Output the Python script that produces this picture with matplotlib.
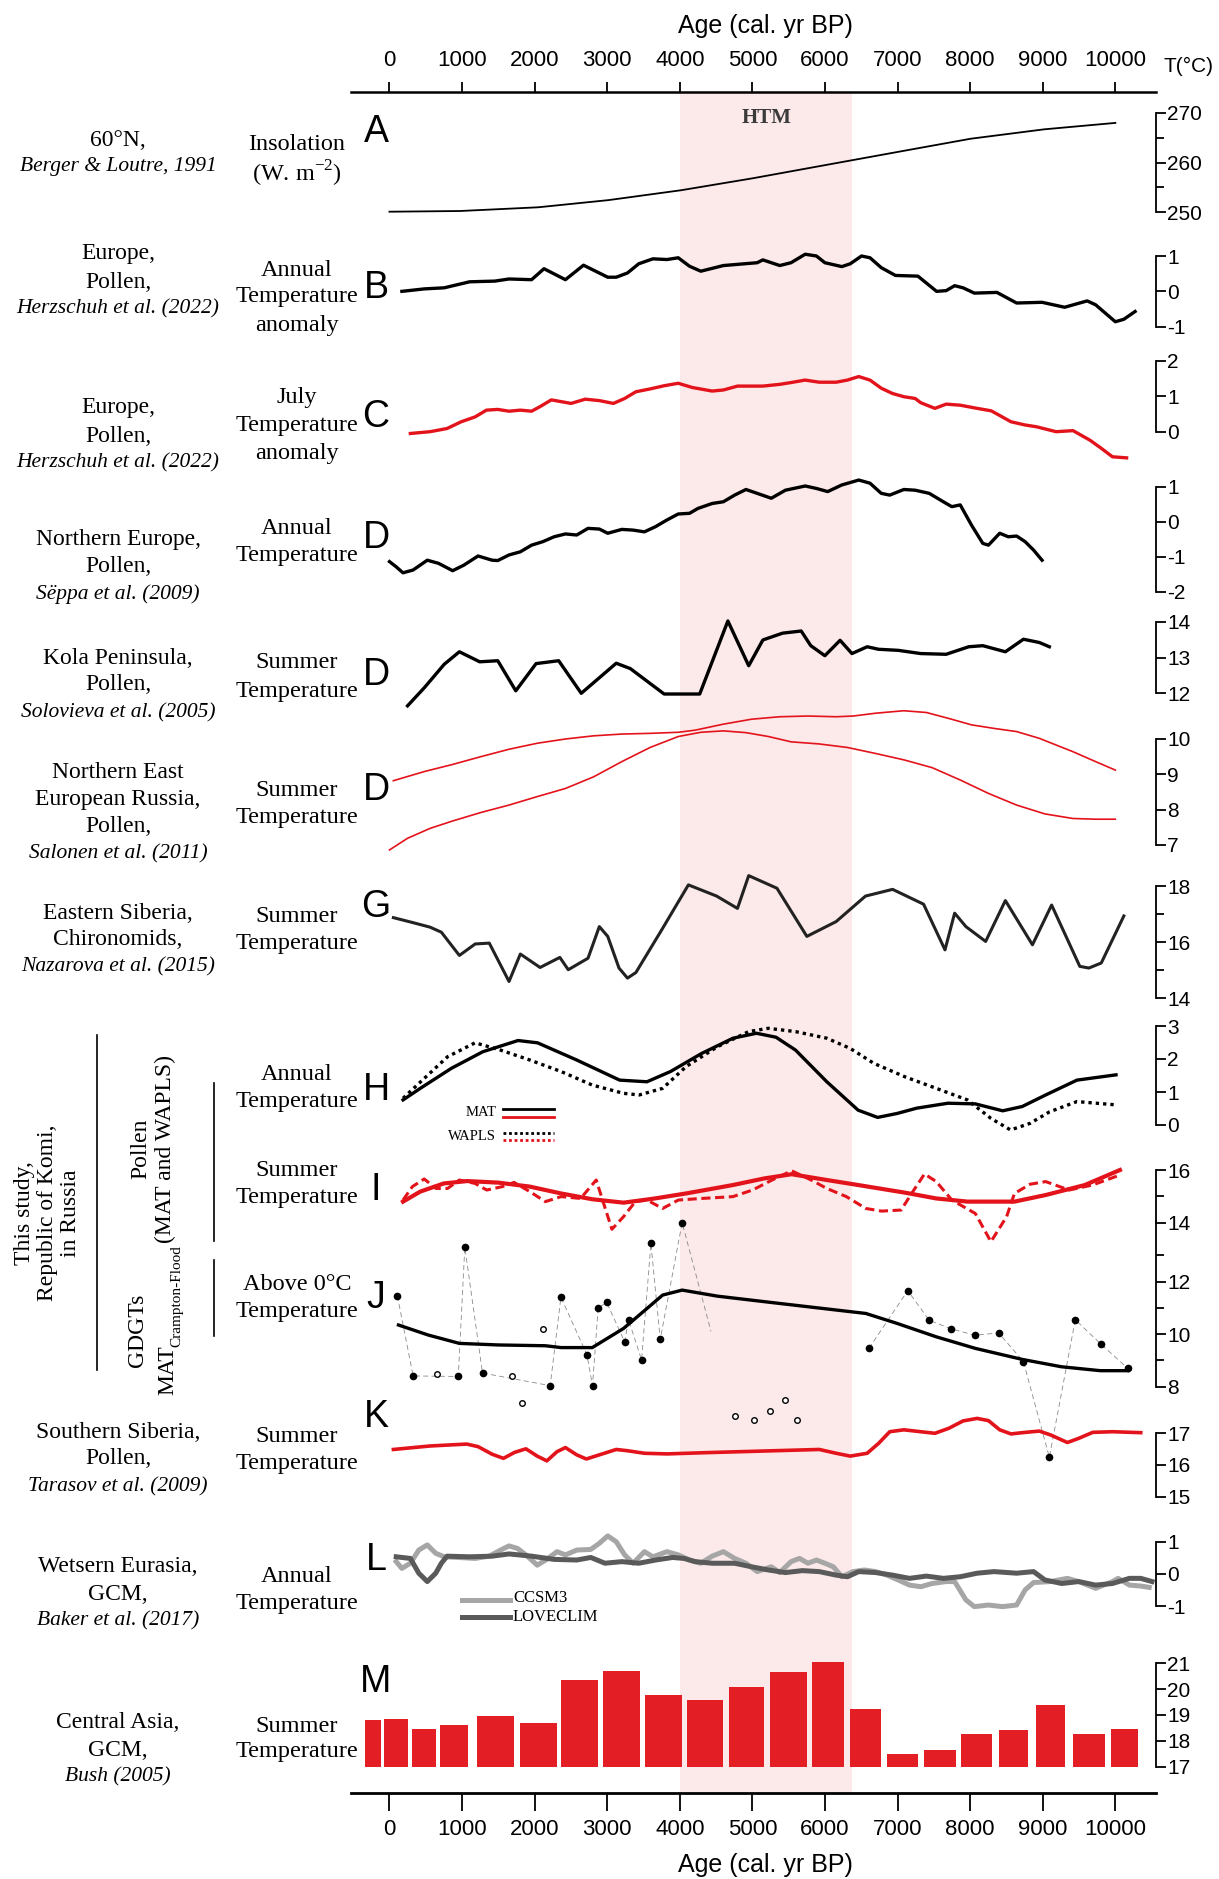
import matplotlib
matplotlib.use("Agg")
import matplotlib.pyplot as plt
from matplotlib.lines import Line2D

# ---------------- values ----------------
htm_start, htm_end = 4000, 6370
age_ticks = [0, 1000, 2000, 3000, 4000, 5000, 6000, 7000, 8000, 9000, 10000]

# A - insolation 60N
insol_age = [0, 970, 2047, 3017, 4019, 5000, 6013, 7026, 8006, 9019, 10000]
insol_val = [250.06, 250.2, 250.95, 252.4, 254.4, 256.8, 259.5, 262.2, 264.8, 266.7, 268.0]

# B - Europe annual anomaly
eu_ann_age = [171, 482, 754, 1103, 1453, 1647, 1958, 2129, 2424, 2673, 3007, 3124, 3279, 3434,
              3629, 3823, 3978, 4134, 4289, 4600, 5066, 5144, 5377, 5532, 5727, 5882, 5998, 6232,
              6348, 6503, 6620, 6775, 6970, 7280, 7537, 7669, 7786, 7902, 8057, 8368, 8640, 8990,
              9301, 9612, 9728, 10000, 10117, 10272]
eu_ann_val = [0, 0.07, 0.1, 0.27, 0.29, 0.35, 0.33, 0.64, 0.33, 0.74, 0.4, 0.4, 0.52, 0.78,
              0.92, 0.9, 0.95, 0.71, 0.57, 0.73, 0.81, 0.89, 0.73, 0.81, 1.05, 1.0, 0.81, 0.7,
              0.78, 1.0, 0.95, 0.67, 0.45, 0.43, 0, 0.02, 0.16, 0.1, -0.05, -0.03, -0.33, -0.31,
              -0.45, -0.27, -0.38, -0.86, -0.79, -0.57]

# C - Europe July anomaly
eu_jul_age = [288, 559, 793, 987, 1181, 1336, 1492, 1647, 1803, 1958, 2075, 2230, 2502, 2696,
              2891, 3085, 3240, 3395, 3590, 3784, 3978, 4173, 4445, 4600, 4794, 5144, 5377, 5532,
              5727, 5921, 6154, 6309, 6465, 6620, 6775, 6931, 7086, 7242, 7319, 7514, 7669, 7863,
              8096, 8291, 8563, 8757, 8912, 9184, 9417, 9650, 9806, 9961, 10155]
eu_jul_val = [-0.05, 0, 0.09, 0.28, 0.42, 0.61, 0.63, 0.58, 0.61, 0.58, 0.71, 0.9, 0.8, 0.92,
              0.88, 0.8, 0.94, 1.13, 1.21, 1.3, 1.37, 1.25, 1.15, 1.18, 1.29, 1.29, 1.34, 1.39,
              1.46, 1.4, 1.4, 1.46, 1.56, 1.46, 1.23, 1.08, 0.99, 0.94, 0.82, 0.66, 0.78, 0.75,
              0.66, 0.59, 0.28, 0.19, 0.14, 0, 0.03, -0.24, -0.47, -0.71, -0.74]

# D - Northern Europe annual
neu_age = [0, 93, 186, 326, 521, 676, 870, 1026, 1220, 1414, 1492, 1647, 1803, 1958, 2113, 2269,
           2424, 2580, 2735, 2891, 3007, 3201, 3357, 3512, 3667, 3823, 3978, 4134, 4250, 4445,
           4600, 4755, 4911, 5066, 5260, 5455, 5727, 5882, 6037, 6232, 6465, 6620, 6775, 6892,
           7086, 7242, 7436, 7630, 7747, 7863, 8019, 8174, 8252, 8407, 8524, 8640, 8757, 8873, 8990]
neu_val = [-1.14, -1.29, -1.46, -1.38, -1.1, -1.19, -1.4, -1.24, -0.98, -1.1, -1.11, -0.95, -0.86,
           -0.67, -0.57, -0.43, -0.35, -0.38, -0.19, -0.21, -0.33, -0.22, -0.24, -0.29, -0.14, 0.05,
           0.22, 0.24, 0.38, 0.52, 0.57, 0.76, 0.92, 0.81, 0.67, 0.9, 1.02, 0.95, 0.86, 1.05, 1.19,
           1.1, 0.81, 0.76, 0.92, 0.9, 0.81, 0.57, 0.43, 0.48, -0.1, -0.62, -0.67, -0.33, -0.43,
           -0.41, -0.57, -0.81, -1.1]

# D - Kola Peninsula summer
kola_age = [249, 482, 754, 963, 1243, 1492, 1740, 2020, 2331, 2642, 3124, 3318, 3784, 4274, 4662,
            4949, 5144, 5416, 5672, 5804, 5998, 6208, 6371, 6581, 6737, 7008, 7319, 7669, 7980,
            8174, 8485, 8734, 8951, 9091]
kola_val = [11.65, 12.16, 12.81, 13.16, 12.88, 12.91, 12.07, 12.83, 12.91, 12.0, 12.84, 12.69,
            11.98, 11.98, 14.02, 12.77, 13.49, 13.68, 13.74, 13.33, 13.05, 13.48, 13.11, 13.3,
            13.23, 13.2, 13.11, 13.09, 13.3, 13.33, 13.16, 13.51, 13.42, 13.3]

# D - Northern East European Russia summer (two records)
neer_a_age = [54, 482, 870, 1259, 1647, 2036, 2424, 2813, 3201, 3590, 3978, 4211, 4600, 4988, 5377,
              5765, 6154, 6387, 6698, 7086, 7397, 7708, 8019, 8329, 8640, 8951, 9417, 9728, 10000]
neer_a_val = [8.82, 9.08, 9.28, 9.5, 9.71, 9.88, 10.0, 10.09, 10.14, 10.16, 10.19, 10.25, 10.42,
              10.56, 10.63, 10.65, 10.63, 10.65, 10.73, 10.8, 10.75, 10.58, 10.4, 10.3, 10.21,
              10.02, 9.64, 9.36, 9.12]
neer_b_age = [0, 249, 559, 870, 1259, 1647, 2036, 2424, 2813, 3201, 3590, 3978, 4289, 4600, 4911,
              5221, 5532, 5921, 6309, 6698, 7086, 7475, 7863, 8252, 8640, 9029, 9417, 9728, 10000]
neer_b_val = [6.86, 7.19, 7.47, 7.68, 7.92, 8.13, 8.37, 8.6, 8.93, 9.36, 9.76, 10.07, 10.19, 10.23,
              10.18, 10.07, 9.92, 9.86, 9.76, 9.59, 9.41, 9.19, 8.84, 8.46, 8.13, 7.88, 7.75, 7.73,
              7.73]

# G - Eastern Siberia chironomids
esib_age = [54, 326, 559, 715, 963, 1181, 1375, 1647, 1803, 2075, 2347, 2463, 2735, 2891, 3007,
            3162, 3279, 3395, 3745, 4118, 4507, 4794, 4949, 5338, 5750, 6154, 6558, 6931, 7358,
            7653, 7786, 7941, 8213, 8485, 8858, 9122, 9510, 9635, 9806, 10117]
esib_val = [16.87, 16.69, 16.53, 16.35, 15.52, 15.93, 15.96, 14.59, 15.57, 15.09, 15.45, 15.01,
            15.42, 16.55, 16.2, 15.07, 14.71, 14.91, 16.41, 18.04, 17.64, 17.2, 18.37, 17.92,
            16.2, 16.73, 17.64, 17.88, 17.35, 15.72, 17.03, 16.55, 16.02, 17.48, 15.9, 17.32,
            15.13, 15.07, 15.25, 16.93]

# H - Komi annual (pollen)
h_mat_age = [187, 424, 855, 1286, 1771, 2040, 2579, 3171, 3547, 3871, 4302, 4732, 5055, 5325,
             5594, 6025, 6456, 6725, 6994, 7263, 7694, 8071, 8448, 8717, 9040, 9471, 10009]
h_mat_val = [0.76, 1.11, 1.72, 2.22, 2.56, 2.49, 1.97, 1.36, 1.31, 1.62, 2.17, 2.63, 2.78, 2.66,
             2.27, 1.31, 0.45, 0.23, 0.35, 0.51, 0.66, 0.64, 0.43, 0.56, 0.91, 1.36, 1.52]
h_wapls_age = [187, 478, 801, 1179, 1502, 1933, 2364, 2794, 3225, 3440, 3763, 4086, 4517, 4948,
               5217, 5594, 6025, 6348, 6671, 7102, 7533, 7963, 8286, 8556, 8825, 9094, 9471, 10009]
h_wapls_val = [0.81, 1.41, 2.07, 2.49, 2.29, 1.97, 1.62, 1.21, 0.96, 0.91, 1.11, 1.77, 2.37, 2.83,
               2.93, 2.83, 2.63, 2.32, 1.87, 1.46, 1.11, 0.76, 0.2, -0.15, 0.05, 0.4, 0.71, 0.61]

# I - Komi summer (pollen)
i_mat_age = [187, 424, 748, 1071, 1502, 1933, 2364, 2794, 3225, 3656, 4086, 4732, 5163, 5540,
             6025, 6456, 7102, 7533, 7963, 8610, 9040, 9579, 10063]
i_mat_val = [14.8, 15.18, 15.49, 15.58, 15.52, 15.37, 15.11, 14.89, 14.76, 14.92, 15.11, 15.43,
             15.68, 15.84, 15.62, 15.43, 15.14, 14.92, 14.8, 14.8, 15.05, 15.43, 16.0]
i_wapls_age = [187, 316, 478, 640, 801, 963, 1179, 1340, 1556, 1717, 1933, 2148, 2364, 2633, 2848,
               3064, 3225, 3387, 3548, 3763, 3979, 4302, 4732, 5002, 5271, 5540, 5810, 6025, 6294,
               6563, 6779, 7048, 7210, 7371, 7533, 7748, 8071, 8286, 8502, 8610, 8825, 9040, 9363,
               9686, 10063]
i_wapls_val = [14.86, 15.37, 15.66, 15.3, 15.3, 15.62, 15.49, 15.24, 15.37, 15.53, 15.18, 14.8,
               14.99, 14.92, 15.62, 13.75, 14.23, 14.8, 14.86, 14.54, 14.86, 14.92, 14.99, 15.24,
               15.62, 15.97, 15.62, 15.3, 14.99, 14.54, 14.44, 14.48, 15.18, 15.85, 15.56, 14.86,
               14.35, 13.28, 14.23, 15.11, 15.46, 15.56, 15.24, 15.43, 15.81]

# J - Komi above-0C temperature (GDGTs)
j_fit_age = [124, 532, 963, 1502, 2148, 2364, 2794, 3225, 3548, 3763, 4032, 4517, 5379, 6563,
             6994, 7533, 8071, 8717, 9256, 9794, 10171]
j_fit_val = [10.35, 9.97, 9.65, 9.59, 9.56, 9.49, 9.49, 10.22, 10.98, 11.49, 11.68, 11.45, 11.17,
             10.79, 10.41, 9.9, 9.46, 9.04, 8.76, 8.61, 8.61]
j_left_age = [109, 326, 948, 1038, 1282, 2214, 2362, 2720, 2797, 2875, 2991, 3240, 3294, 3473,
              3602, 3730, 4032, 4429]
j_left_val = [11.46, 8.41, 8.39, 13.31, 8.52, 8.04, 11.41, 9.22, 8.04, 10.99, 11.22, 9.71, 10.55,
              9.02, 13.46, 9.8, 14.25, 10.11]
j_right_age = [6605, 7140, 7436, 7731, 8065, 8392, 8733, 9091, 9448, 9806, 10171]
j_right_val = [9.46, 11.66, 10.53, 10.21, 9.96, 10.05, 8.96, 5.31, 10.55, 9.61, 8.7]
j_open_age = [652, 1686, 1826, 2113, 4755, 5027, 5237, 5447, 5610]
j_open_val = [8.48, 8.41, 7.37, 10.2, 6.87, 6.74, 7.06, 7.5, 6.72]

# K - Southern Siberia summer
ssib_age = [54, 559, 1064, 1220, 1414, 1570, 1725, 1880, 2036, 2168, 2308, 2424, 2580, 2712, 2891,
            3124, 3279, 3512, 3823, 4367, 5144, 5921, 6154, 6348, 6581, 6737, 6892, 7086, 7319,
            7514, 7708, 7902, 8096, 8252, 8407, 8563, 8718, 8951, 9106, 9339, 9495, 9689, 9961,
            10350]
ssib_val = [16.49, 16.6, 16.66, 16.58, 16.34, 16.21, 16.4, 16.51, 16.28, 16.13, 16.42, 16.55,
            16.32, 16.19, 16.32, 16.49, 16.45, 16.37, 16.35, 16.39, 16.44, 16.49, 16.37, 16.28,
            16.37, 16.68, 17.05, 17.11, 17.05, 17.0, 17.16, 17.39, 17.47, 17.4, 17.11, 16.98,
            17.02, 17.07, 16.95, 16.71, 16.84, 17.03, 17.05, 17.02]

# L - Western Eurasia GCM annual
ccsm_age = [93, 171, 288, 404, 521, 637, 754, 948, 1181, 1375, 1531, 1647, 1764, 1880, 2036, 2152,
            2308, 2424, 2580, 2774, 2891, 3007, 3124, 3240, 3357, 3512, 3629, 3823, 3978, 4134,
            4289, 4445, 4600, 4755, 4911, 5066, 5260, 5377, 5532, 5649, 5765, 5882, 5998, 6115,
            6232, 6387, 6542, 6698, 6853, 7008, 7164, 7319, 7475, 7669, 7786, 7941, 8057, 8252,
            8446, 8640, 8757, 8873, 9106, 9339, 9495, 9728, 9961, 10039, 10194, 10350, 10466]
ccsm_val = [0.38, 0.17, 0.33, 0.74, 0.9, 0.64, 0.53, 0.51, 0.48, 0.55, 0.74, 0.87, 0.79, 0.59,
            0.27, 0.43, 0.69, 0.59, 0.74, 0.76, 0.95, 1.18, 1.0, 0.59, 0.33, 0.69, 0.53, 0.69,
            0.59, 0.43, 0.33, 0.55, 0.69, 0.48, 0.33, 0.07, 0.22, 0.04, 0.38, 0.48, 0.33, 0.43,
            0.33, 0.22, -0.09, 0.07, 0.12, 0.07, -0.04, -0.19, -0.35, -0.4, -0.3, -0.24, -0.24,
            -0.81, -1.02, -0.97, -1.02, -0.97, -0.5, -0.27, -0.24, -0.14, -0.24, -0.45, -0.24,
            -0.14, -0.35, -0.38, -0.42]
lovec_age = [93, 288, 404, 521, 637, 715, 793, 1103, 1414, 1647, 1958, 2269, 2580, 2774, 2968,
             3201, 3434, 3667, 3900, 4056, 4211, 4445, 4755, 4988, 5221, 5455, 5688, 5921, 6154,
             6309, 6465, 6698, 6931, 7164, 7397, 7630, 7863, 8096, 8329, 8640, 8873, 9029, 9262,
             9495, 9728, 9961, 10194, 10350, 10505]
lovec_val = [0.53, 0.48, 0.02, -0.24, 0.02, 0.33, 0.55, 0.53, 0.55, 0.62, 0.55, 0.45, 0.43, 0.51,
             0.33, 0.38, 0.33, 0.43, 0.51, 0.48, 0.38, 0.33, 0.33, 0.22, 0.12, 0.04, 0.1, 0.07,
             -0.04, -0.09, 0.07, 0.04, -0.04, -0.14, -0.07, -0.14, -0.09, 0.02, 0.07, 0.02, 0.07,
             -0.19, -0.3, -0.24, -0.35, -0.3, -0.14, -0.14, -0.24]

# M - Central Asia GCM summer (age bins)
casia_left = [-334, -78, 311, 692, 1204, 1803, 2362, 2945, 3527, 4095, 4677, 5237, 5827, 6348,
              6853, 7366, 7879, 8391, 8912, 9417, 9945]
casia_right = [-117, 249, 637, 1080, 1709, 2308, 2875, 3450, 4025, 4592, 5159, 5758, 6263, 6775,
               7288, 7801, 8306, 8803, 9308, 9860, 10311]
casia_val = [18.81, 18.83, 18.47, 18.6, 18.97, 18.7, 20.35, 20.69, 19.76, 19.58, 20.1, 20.66,
             21.06, 19.25, 17.5, 17.63, 18.28, 18.43, 19.37, 18.25, 18.47]
casia_base = 17

# ---------------- figure ----------------
W, H = 1219, 1879
SERIF = "Liberation Serif"
SANS = "Liberation Sans"
RED = "#e3131b"
PINK = "#fce9e9"

plt.rcParams["font.family"] = SANS
plt.rcParams["axes.unicode_minus"] = False

fig = plt.figure(figsize=(W / 100, H / 100), dpi=100)

X0, X1 = 351, 1156
AGE_MIN, AGE_MAX = -530, 10560


def fx(px):
    return px / W


def fy(py):
    return 1 - py / H


# background: HTM band and the two age axes
bg = fig.add_axes([fx(X0), fy(1793), fx(X1) - fx(X0), (1793 - 92) / H])
bg.set_xlim(AGE_MIN, AGE_MAX)
bg.set_ylim(0, 1)
bg.axvspan(htm_start, htm_end, color=PINK, lw=0)
bg.patch.set_visible(False)
for s in ("left", "right", "top"):
    bg.spines[s].set_visible(False)
bg.spines["bottom"].set_linewidth(2)
bg.set_yticks([])
bg.set_xticks(age_ticks)
bg.tick_params(axis="x", direction="out", length=13, width=1.3, pad=6, labelsize=16)

top = bg.twiny()
top.set_xlim(AGE_MIN, AGE_MAX)
for s in ("left", "right", "bottom"):
    top.spines[s].set_visible(False)
top.spines["top"].set_linewidth(1.8)
top.set_xticks(age_ticks)
top.tick_params(axis="x", direction="out", length=7, width=1.3, pad=8, labelsize=16)

fig.text(fx(765), fy(26), "Age (cal. yr BP)", fontsize=18, ha="center", va="center")
fig.text(fx(765), fy(1865), "Age (cal. yr BP)", fontsize=18, ha="center", va="center")
fig.text(fx(1188), fy(66), "T(°C)", fontsize=15, ha="center", va="center")
fig.text(fx(767), fy(118), "HTM", fontsize=15, ha="center", va="center",
         family=SERIF, weight="bold", color="#3a3a3a")


def panel(v_top, y_top, v_bot, y_bot, major, minor=(), bounds=None, pad_px=40):
    per = (v_top - v_bot) / (y_bot - y_top)
    top_px, bot_px = y_top - pad_px, y_bot + pad_px
    ax = fig.add_axes([fx(X0), fy(bot_px), fx(X1) - fx(X0), (bot_px - top_px) / H])
    ax.set_xlim(AGE_MIN, AGE_MAX)
    ax.set_ylim(v_bot - pad_px * per, v_top + pad_px * per)
    ax.patch.set_visible(False)
    for s in ("left", "top", "bottom"):
        ax.spines[s].set_visible(False)
    ax.spines["right"].set_bounds(*(bounds or (v_bot, v_top)))
    ax.spines["right"].set_linewidth(1.3)
    ax.set_xticks([])
    ax.yaxis.tick_right()
    ax.set_yticks(major)
    ax.set_yticks(list(minor), minor=True)
    ax.tick_params(axis="y", which="major", direction="out", length=7, width=1.3,
                   pad=1, labelsize=15)
    ax.tick_params(axis="y", which="minor", direction="out", length=6, width=1.3)
    return ax


axA = panel(270, 113, 250, 212, [250, 260, 270], [255, 265])
axA.plot(insol_age, insol_val, color="black", lw=1.3, clip_on=False)

axB = panel(1, 256, -1, 326.7, [-1, 0, 1])
axB.plot(eu_ann_age, eu_ann_val, color="black", lw=2.4, clip_on=False)

axC = panel(2, 361, 0, 431.7, [0, 1, 2])
axC.plot(eu_jul_age, eu_jul_val, color=RED, lw=2.4, clip_on=False)

axD1 = panel(1, 486.7, -2, 591.7, [-2, -1, 0, 1])
axD1.plot(neu_age, neu_val, color="black", lw=2.4, clip_on=False)

axD2 = panel(14, 621.7, 12, 693.3, [12, 13, 14])
axD2.plot(kola_age, kola_val, color="black", lw=2.4, clip_on=False)

axD3 = panel(10, 739, 7, 845, [7, 8, 9, 10])
axD3.plot(neer_a_age, neer_a_val, color=RED, lw=1.2, clip_on=False)
axD3.plot(neer_b_age, neer_b_val, color=RED, lw=1.2, clip_on=False)

axG = panel(18, 886, 14, 998, [14, 16, 18], [15, 17])
axG.plot(esib_age, esib_val, color="#222222", lw=2.2, clip_on=False)

axH = panel(3, 1026, 0, 1125, [0, 1, 2, 3])
axH.plot(h_mat_age, h_mat_val, color="black", lw=2.4, clip_on=False)
axH.plot(h_wapls_age, h_wapls_val, color="black", lw=2.4, ls=(0, (1, 1.2)), clip_on=False)

axI = panel(16, 1170, 14, 1222.7, [14, 16], [15])
axI.plot(i_mat_age, i_mat_val, color=RED, lw=3, clip_on=False)
axI.plot(i_wapls_age, i_wapls_val, color=RED, lw=2.2, ls=(0, (3, 1.5)), clip_on=False)

axJ = panel(12, 1281.7, 8, 1386.7, [8, 10, 12], [9, 11, 13], bounds=(8, 14.3))
axJ.plot(j_left_age, j_left_val, color="#8a8a8a", lw=0.6, ls=(0, (6, 4)), clip_on=False)
axJ.plot(j_right_age, j_right_val, color="#8a8a8a", lw=0.6, ls=(0, (6, 4)), clip_on=False)
axJ.plot(j_left_age[:-1], j_left_val[:-1], "o", color="black", ms=4.5, clip_on=False)
axJ.plot(j_right_age, j_right_val, "o", color="black", ms=4.5, clip_on=False)
axJ.plot(j_open_age, j_open_val, "o", mfc="white", mec="black", mew=1, ms=4, clip_on=False)
axJ.plot(j_fit_age, j_fit_val, color="black", lw=2.4, clip_on=False)

axK = panel(17, 1433.3, 15, 1496.7, [15, 16, 17])
axK.plot(ssib_age, ssib_val, color=RED, lw=2.6, clip_on=False)

axL = panel(1, 1541.7, -1, 1606, [-1, 0, 1])
axL.plot(ccsm_age, ccsm_val, color="#a6a6a6", lw=3.6, clip_on=False)
axL.plot(lovec_age, lovec_val, color="#5a5a5a", lw=3.6, clip_on=False)

axM = panel(21, 1663.3, 17, 1766.7, [17, 18, 19, 20, 21])
axM.bar(casia_left, [v - casia_base for v in casia_val],
        width=[r - l for l, r in zip(casia_left, casia_right)],
        bottom=casia_base, align="edge", color="#e31e24", edgecolor="none")


# small legends
def hline(x0, x1, y, **kw):
    fig.add_artist(Line2D([fx(x0), fx(x1)], [fy(y), fy(y)], **kw))


fig.text(fx(496), fy(1112), "MAT", family=SERIF, fontsize=10.5, ha="right", va="center")
fig.text(fx(496), fy(1136), "WAPLS", family=SERIF, fontsize=10.5, ha="right", va="center")
hline(503, 554, 1109, color="black", lw=2)
hline(503, 554, 1117, color=RED, lw=2)
hline(503, 554, 1133, color="black", lw=2, ls=(0, (1, 1)))
hline(503, 554, 1140, color=RED, lw=2, ls=(0, (1, 1)))

hline(462, 510, 1600, color="#a6a6a6", lw=3.6)
hline(462, 510, 1617, color="#5a5a5a", lw=3.6)
fig.text(fx(513), fy(1598), "CCSM3", family=SERIF, fontsize=12, ha="left", va="center")
fig.text(fx(513), fy(1617), "LOVECLIM", family=SERIF, fontsize=12, ha="left", va="center")

# panel letters
letters = [("A", 132), ("B", 288), ("C", 417), ("D", 538), ("D", 675), ("D", 790), ("G", 907),
           ("H", 1090), ("I", 1190), ("J", 1298), ("K", 1417), ("L", 1560), ("M", 1682)]
for letter, y in letters:
    fig.text(fx(376), fy(y), letter, fontsize=27, ha="center", va="center")

# left-hand descriptions: (text, y, italic)
sources = [
    ("60°N,", 141, False), ("Berger & Loutre, 1991", 166, True),
    ("Europe,", 254, False), ("Pollen,", 282, False), ("Herzschuh et al. (2022)", 309, True),
    ("Europe,", 408, False), ("Pollen,", 436, False), ("Herzschuh et al. (2022)", 463, True),
    ("Northern Europe,", 539, False), ("Pollen,", 567, False), ("Sëppa et al. (2009)", 594, True),
    ("Kola Peninsula,", 659, False), ("Pollen,", 685, False),
    ("Solovieva et al. (2005)", 713, True),
    ("Northern East", 772, False), ("European Russia,", 799, False), ("Pollen,", 827, False),
    ("Salonen et al. (2011)", 854, True),
    ("Eastern Siberia,", 913, False), ("Chironomids,", 940, False),
    ("Nazarova et al. (2015)", 967, True),
    ("Southern Siberia,", 1432, False), ("Pollen,", 1459, False),
    ("Tarasov et al. (2009)", 1487, True),
    ("Wetsern Eurasia,", 1566, False), ("GCM,", 1594, False), ("Baker et al. (2017)", 1621, True),
    ("Central Asia,", 1723, False), ("GCM,", 1751, False), ("Bush (2005)", 1777, True),
]
for txt, y, it in sources:
    fig.text(fx(118), fy(y), txt, family=SERIF, fontsize=15.5 if it else 17,
             style="italic" if it else "normal", ha="center", va="center")

variables = [
    ("Insolation", 144), (r"(W. m$^{\mathregular{-2}}$)", 174),
    ("Annual", 270), ("Temperature", 297), ("anomaly", 325),
    ("July", 398), ("Temperature", 426), ("anomaly", 453),
    ("Annual", 528), ("Temperature", 555),
    ("Summer", 662), ("Temperature", 691),
    ("Summer", 791), ("Temperature", 817),
    ("Summer", 917), ("Temperature", 944),
    ("Annual", 1075), ("Temperature", 1102),
    ("Summer", 1170), ("Temperature", 1197),
    ("Above 0°C", 1285), ("Temperature", 1312),
    ("Summer", 1436), ("Temperature", 1464),
    ("Annual", 1577), ("Temperature", 1604),
    ("Summer", 1726), ("Temperature", 1752),
]
for txt, y in variables:
    fig.text(fx(297), fy(y), txt, family=SERIF, fontsize=17.5, ha="center", va="center")

# "this study" group
fig.text(fx(47.5), fy(1213), "This study,\nRepublic of Komi,\nin Russia", family=SERIF,
         fontsize=17, rotation=90, ha="center", va="center", multialignment="center",
         linespacing=1.1)
fig.add_artist(Line2D([fx(97), fx(97)], [fy(1035), fy(1370)], color="black", lw=1.2))
fig.text(fx(153), fy(1149), "Pollen\n(MAT and WAPLS)", family=SERIF, fontsize=17, rotation=90,
         ha="center", va="center", multialignment="center", linespacing=1.2)
fig.text(fx(138), fy(1330), "GDGTs", family=SERIF, fontsize=17, rotation=90,
         ha="center", va="center")
fig.text(fx(168), fy(1370), "MAT", family=SERIF, fontsize=17, rotation=90,
         ha="center", va="center")
fig.text(fx(177), fy(1296), "Crampton-Flood", family=SERIF, fontsize=11, rotation=90,
         ha="center", va="center")
fig.add_artist(Line2D([fx(214), fx(214)], [fy(1083), fy(1241)], color="black", lw=1.2))
fig.add_artist(Line2D([fx(214), fx(214)], [fy(1260), fy(1336)], color="black", lw=1.2))

fig.savefig("out.png", dpi=100)
